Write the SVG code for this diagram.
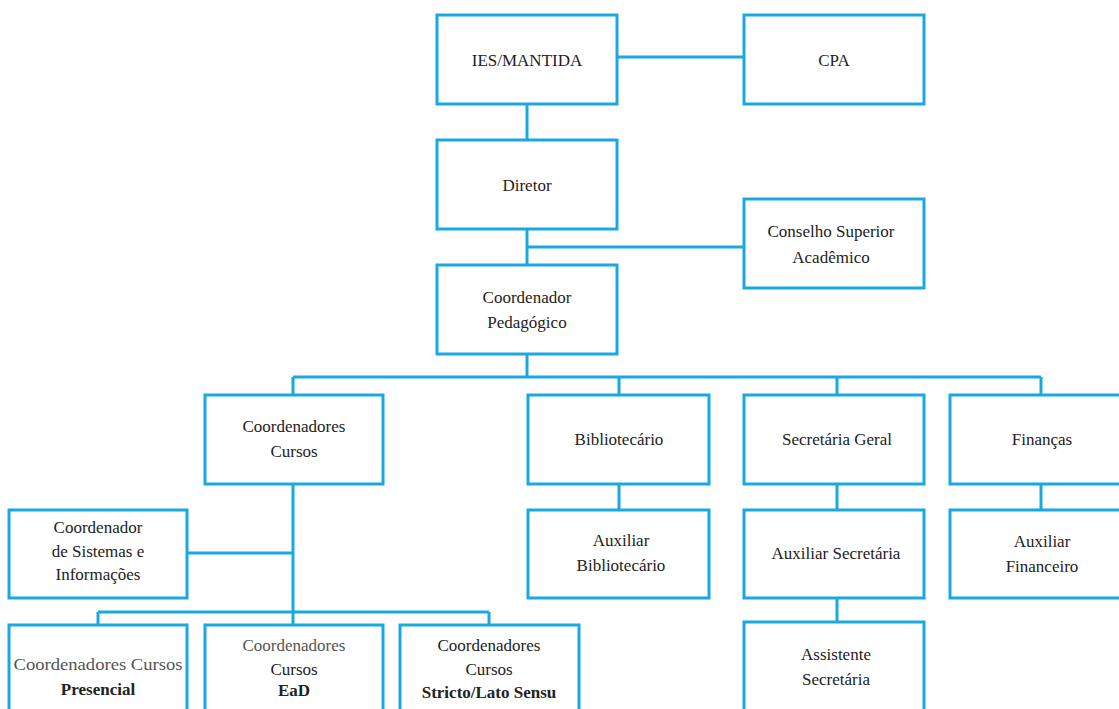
<svg xmlns="http://www.w3.org/2000/svg" width="1119" height="709" viewBox="0 0 1119 709">
<style>
.b{fill:#fff;stroke:#1aa8e2;stroke-width:3}
.c{stroke:#1aa8e2;stroke-width:3;fill:none}
text{font-family:'Liberation Serif','Times New Roman',Times,'DejaVu Serif',serif;font-size:17px;fill:#222;text-anchor:middle}
.g{fill:#555}
.bd{font-weight:bold}
</style>
<rect width="1119" height="709" fill="#fff"/>
<g id="connectors">
<path class="c" d="M617 57H744"/>
<path class="c" d="M527 104V140"/>
<path class="c" d="M527 229V265"/>
<path class="c" d="M527 247H744"/>
<path class="c" d="M527 354V377"/>
<path class="c" d="M293 377H1041"/>
<path class="c" d="M293 377V395M619 377V395M837 377V395M1041 377V395"/>
<path class="c" d="M619 484V510M837 484V510M1041 484V510M837 598V622"/>
<path class="c" d="M293 484V625"/>
<path class="c" d="M187 553H293"/>
<path class="c" d="M98 612H489M98 612V625M489 612V625"/>
</g>
<g id="ies"><rect class="b" x="437" y="15" width="180" height="89"/><text x="527" y="66">IES/MANTIDA</text></g>
<g id="cpa"><rect class="b" x="744" y="15" width="180" height="89"/><text x="834" y="66">CPA</text></g>
<g id="diretor"><rect class="b" x="437" y="140" width="180" height="89"/><text x="527" y="191">Diretor</text></g>
<g id="conselho"><rect class="b" x="744" y="199" width="180" height="89"/><text x="831" y="237">Conselho Superior</text><text x="831" y="263">Acadêmico</text></g>
<g id="coordped"><rect class="b" x="437" y="265" width="180" height="89"/><text x="527" y="303">Coordenador</text><text x="527" y="328">Pedagógico</text></g>
<g id="coordcursos"><rect class="b" x="205" y="395" width="178" height="89"/><text x="294" y="432">Coordenadores</text><text x="294" y="457">Cursos</text></g>
<g id="biblio"><rect class="b" x="528" y="395" width="181" height="89"/><text x="619" y="445">Bibliotecário</text></g>
<g id="secgeral"><rect class="b" x="744" y="395" width="180" height="89"/><text x="837" y="445">Secretária Geral</text></g>
<g id="financas"><rect class="b" x="950" y="395" width="184" height="89"/><text x="1042" y="445">Finanças</text></g>
<g id="auxbiblio"><rect class="b" x="528" y="510" width="181" height="88"/><text x="621" y="546">Auxiliar</text><text x="621" y="571">Bibliotecário</text></g>
<g id="auxsec"><rect class="b" x="744" y="510" width="180" height="88"/><text x="836" y="559">Auxiliar Secretária</text></g>
<g id="auxfin"><rect class="b" x="950" y="510" width="184" height="88"/><text x="1042" y="547">Auxiliar</text><text x="1042" y="572">Financeiro</text></g>
<g id="assistsec"><rect class="b" x="744" y="622" width="180" height="100"/><text x="836" y="660">Assistente</text><text x="836" y="685">Secretária</text></g>
<g id="sistemas"><rect class="b" x="9" y="510" width="178" height="88"/><text x="98" y="533">Coordenador</text><text x="98" y="557">de Sistemas e</text><text x="98" y="580">Informações</text></g>
<g id="presencial"><rect class="b" x="9" y="625" width="178" height="100"/><text class="g" x="98" y="670" textLength="169" lengthAdjust="spacingAndGlyphs">Coordenadores  Cursos</text><text class="bd" x="98" y="695">Presencial</text></g>
<g id="ead"><rect class="b" x="205" y="625" width="178" height="100"/><text class="g" x="294" y="651">Coordenadores</text><text x="294" y="675">Cursos</text><text class="bd" x="294" y="696">EaD</text></g>
<g id="stricto"><rect class="b" x="400" y="625" width="179" height="100"/><text x="489" y="651">Coordenadores</text><text x="489" y="675">Cursos</text><text class="bd" x="489" y="698" font-size="16">Stricto/Lato Sensu</text></g>
</svg>
